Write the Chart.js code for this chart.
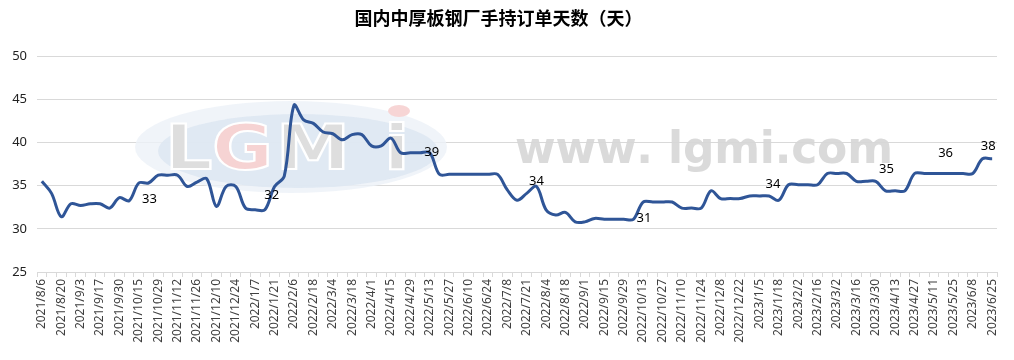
<!DOCTYPE html>
<html><head><meta charset="utf-8">
<script src="https://cdn.jsdelivr.net/npm/chart.js@4.4.1/dist/chart.umd.min.js"></script>
<style>html,body{margin:0;padding:0;background:#fff}#wrap{width:1014px;height:360px}</style>
</head><body><div id="wrap"><canvas id="c" width="1014" height="360"></canvas></div>
<script>
const titleText = '国内中厚板钢厂手持订单天数（天）';
const dates = [
'2021/8/6','2021/8/13','2021/8/20','2021/8/27','2021/9/3','2021/9/10','2021/9/17','2021/9/24','2021/9/30','2021/10/8',
'2021/10/15','2021/10/22','2021/10/29','2021/11/5','2021/11/12','2021/11/19','2021/11/26','2021/12/3','2021/12/10','2021/12/17',
'2021/12/24','2021/12/31','2022/1/7','2022/1/14','2022/1/21','2022/1/28','2022/2/6','2022/2/11','2022/2/18','2022/2/25',
'2022/3/4','2022/3/11','2022/3/18','2022/3/25','2022/4/1','2022/4/8','2022/4/15','2022/4/22','2022/4/29','2022/5/6',
'2022/5/13','2022/5/20','2022/5/27','2022/6/2','2022/6/10','2022/6/17','2022/6/24','2022/7/1','2022/7/8','2022/7/15',
'2022/7/21','2022/7/28','2022/8/4','2022/8/11','2022/8/18','2022/8/25','2022/9/1','2022/9/8','2022/9/15','2022/9/22',
'2022/9/29','2022/10/8','2022/10/13','2022/10/20','2022/10/27','2022/11/3','2022/11/10','2022/11/17','2022/11/24','2022/12/1',
'2022/12/8','2022/12/15','2022/12/22','2022/12/29','2023/1/5','2023/1/12','2023/1/18','2023/1/28','2023/2/2','2023/2/9',
'2023/2/16','2023/2/23','2023/3/2','2023/3/9','2023/3/16','2023/3/23','2023/3/30','2023/4/6','2023/4/13','2023/4/20',
'2023/4/27','2023/5/4','2023/5/11','2023/5/18','2023/5/25','2023/6/1','2023/6/8','2023/6/16','2023/6/25'
];
const orderDays = [
35.5,34.1,31.4,32.9,32.7,32.9,32.9,32.4,33.6,33.25,
35.3,35.3,36.2,36.2,36.2,34.9,35.4,35.8,32.6,34.9,
34.9,32.4,32.2,32.2,34.9,36.1,44.3,42.6,42.2,41.2,
41.0,40.3,40.9,40.9,39.6,39.6,40.5,38.8,38.8,38.8,
38.8,36.3,36.3,36.3,36.3,36.3,36.3,36.3,34.5,33.3,
34.1,34.9,32.2,31.6,31.9,30.8,30.8,31.2,31.1,31.1,
31.1,31.1,33.1,33.1,33.1,33.1,32.4,32.4,32.4,34.4,
33.5,33.5,33.5,33.8,33.8,33.8,33.3,35.1,35.1,35.1,
35.1,36.4,36.4,36.4,35.5,35.5,35.5,34.4,34.4,34.4,
36.4,36.4,36.4,36.4,36.4,36.4,36.4,38.1,38.1
];
const yMin = 25, yMax = 50, yStep = 5;
// annotation texts shown on the chart, anchored in data space (category index, value)
const labelText  = ['33','32','39','34','31','34','35','36','38'];
const labelIndex = [11.1,23.7,40.2,51.0,62.1,75.4,87.1,93.2,97.6];
const labelValue = [33.4,33.9,38.8,35.5,31.2,35.2,36.9,38.7,39.5];

const watermark = {
  id: 'watermark',
  beforeDatasetsDraw(chart) {
    const ctx = chart.ctx;
    ctx.save();
    // logo ellipse
    ctx.beginPath();
    ctx.ellipse(291, 147, 156, 46, 0, 0, Math.PI * 2);
    ctx.fillStyle = 'rgba(236,241,247,0.8)';
    ctx.fill();
    ctx.beginPath();
    ctx.ellipse(298, 151, 140, 37, 0, 0, Math.PI * 2);
    ctx.fillStyle = 'rgba(220,230,241,0.8)';
    ctx.fill();
    ctx.textBaseline = 'alphabetic';
    ctx.lineWidth = 2;
    ctx.strokeStyle = '#ffffff';
    const letters = [['L',165,'#dedede'],['G',212,'#f6d3d3'],['M',276,'#dedede'],['i',384,'#dedede']];
    letters.forEach(([t,x,c]) => {
      ctx.save();
      ctx.translate(x, 169);
      ctx.scale(1.2, 1);
      ctx.font = 'bold 62px "DejaVu Sans"';
      ctx.fillStyle = c; ctx.fillText(t, 0, 0); ctx.strokeText(t, 0, 0);
      ctx.restore();
    });
    ctx.beginPath();
    ctx.ellipse(399, 111, 11, 6, 0, 0, Math.PI * 2);
    ctx.fillStyle = '#f7d5d5';
    ctx.fill();
    // website text
    const site = 'www. lgmi.com';
    ctx.font = 'bold 44px "DejaVu Sans"';
    ctx.fillStyle = 'rgba(214,214,214,0.9)';
    const chars = site.split('');
    const natural = chars.reduce((s, ch) => s + ctx.measureText(ch).width, 0);
    const span = 378;
    const gap = (span - natural) / (chars.length - 1);
    let x = 515;
    chars.forEach(ch => { ctx.fillText(ch, x, 163); x += ctx.measureText(ch).width + gap; });
    ctx.restore();
  }
};

const valueLabels = {
  id: 'valueLabels',
  afterDatasetsDraw(chart) {
    const ctx = chart.ctx, xs = chart.scales.x, ys = chart.scales.y;
    ctx.save();
    ctx.font = '13px "Noto Sans"';
    ctx.fillStyle = '#000';
    ctx.textAlign = 'center';
    ctx.textBaseline = 'middle';
    labelText.forEach((t, k) => {
      ctx.fillText(t, xs.getPixelForValue(labelIndex[k]), ys.getPixelForValue(labelValue[k]));
    });
    ctx.restore();
  }
};

new Chart(document.getElementById('c'), {
  type: 'line',
  data: {
    labels: dates,
    datasets: [{
      data: orderDays,
      borderColor: '#2f5597',
      borderWidth: 3,
      pointRadius: 0,
      fill: false,
      tension: 0.35
    }]
  },
  options: {
    responsive: false,
    devicePixelRatio: 1,
    animation: false,
    layout: { padding: { top: 0, right: 17, bottom: 0, left: 0 } },
    plugins: {
      legend: { display: false },
      tooltip: { enabled: false },
      title: {
        display: true,
        text: titleText,
        color: '#000',
        font: { family: '"Noto Sans CJK SC"', size: 18, weight: 'bold' },
        padding: { top: 7, bottom: 27.4 }
      }
    },
    scales: {
      x: {
        offset: true,
        grid: { offset: true, drawOnChartArea: false, drawTicks: true, tickLength: 5, color: '#d9d9d9' },
        border: { display: true, color: '#d9d9d9' },
        ticks: {
          autoSkip: false, maxRotation: 90, minRotation: 90, padding: 2,
          color: '#404040', font: { family: '"Noto Sans"', size: 12 },
          callback: function (v, i) { return i % 2 === 0 ? this.getLabelForValue(v) : ''; }
        },
        afterFit: s => { s.height = 88; }
      },
      y: {
        min: yMin, max: yMax,
        ticks: { stepSize: yStep, color: '#222', font: { family: '"Noto Sans"', size: 13 }, padding: 10 },
        grid: { color: '#d9d9d9', drawTicks: false },
        border: { display: false },
        afterFit: s => { s.width = 37; }
      }
    }
  },
  plugins: [watermark, valueLabels]
});
</script>
</body></html>
